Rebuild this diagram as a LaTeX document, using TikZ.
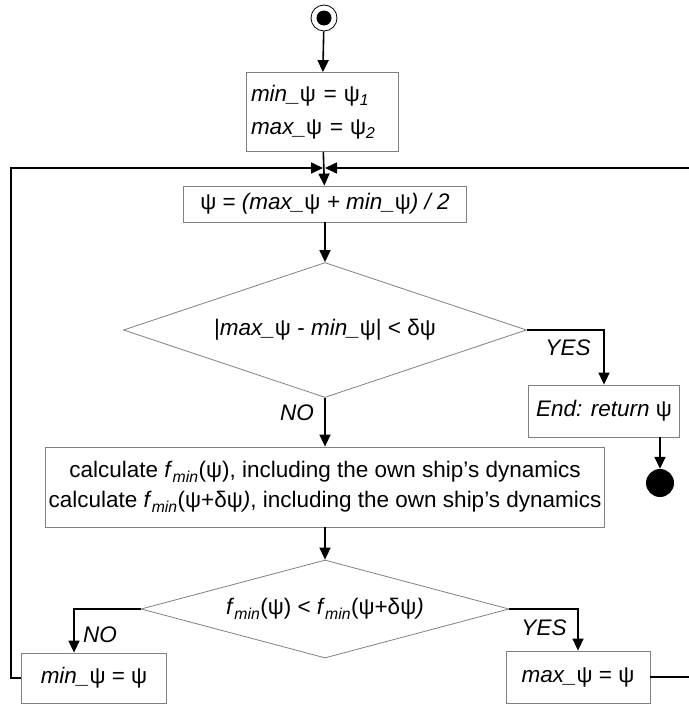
\documentclass[tikz,border=0pt]{standalone}
\usepackage{fontspec}
\setmainfont{Liberation Sans}
\usetikzlibrary{shapes.geometric,arrows.meta}
\newcommand{\ps}{\textup{ψ}}
\newcommand{\dps}{\textup{δψ}}
\newcommand{\fmin}{\textit{f}\textsubscript{\textit{min}}}

\begin{document}
\begin{tikzpicture}[x=1pt, y=-1pt,
		font=\fontsize{22.5}{30}\selectfont,
		box/.style={draw=gray, line width=0.8pt, inner sep=0pt},
		cond/.style={draw=gray, line width=0.8pt, diamond, inner sep=0pt},
		flow/.style={line width=1.6pt, -{Triangle[length=12pt,width=11pt]}},
		lbl/.style={font=\fontsize{22.5}{26}\selectfont\itshape}]
	\useasboundingbox (0,0) rectangle (688,704);

	% Start
	\node[draw=black, line width=0.8pt, circle, minimum size=26pt, inner sep=0pt] (start) at (324,18) {};
	\fill (start) circle (7.5pt);

	% Blocks
	\node[box, minimum width=152pt, minimum height=79pt, text width=142pt, align=left, font=\fontsize{22.5}{33}\selectfont\itshape] (init) at (322,112) {min\_\ps{} = \ps\textsubscript{1}\\max\_\ps{} = \ps\textsubscript{2}};
	\coordinate (merge) at (324,168);
	\node[box, minimum width=283pt, minimum height=36pt] (calc) at (325,204) {\ps{} = \textit{(max\_}\ps{} \textit{+ min\_}\ps\textit{) / 2}};
	\node[cond, aspect=3, minimum width=403pt, minimum height=135pt] (check) at (325,330) {|\textit{max\_}\ps{} - \textit{min\_}\ps| < \dps};
	\node[box, minimum width=151pt, minimum height=52pt] (done) at (604,411) {\textit{End: return} \ps};
	\node[circle, fill, minimum size=28pt, inner sep=0pt] (stop) at (660,483) {};
	\node[box, minimum width=559pt, minimum height=80pt, align=center] (eval) at (325,487) {calculate \fmin(\ps), including the own ship’s dynamics\\calculate \fmin(\ps+\dps\textit{)}, including the own ship’s dynamics};
	\node[cond, aspect=3.75, minimum width=368pt, minimum height=98pt] (cmp) at (325,609) {\fmin(\ps) < \fmin(\ps+\dps\textit{)}};
	\node[box, minimum width=145pt, minimum height=50pt] (setmin) at (94,678) {\textit{min\_}\ps{} = \ps};
	\node[box, minimum width=144pt, minimum height=52pt] (setmax) at (578,677) {\textit{max\_}\ps{} = \ps};

	% Labels
	\node[lbl] (yes1) at (568,348) {YES};
	\node[lbl] (no1) at (297,413) {NO};
	\node[lbl] (no2) at (100,635) {NO};
	\node[lbl] (yes2) at (544,628) {YES};

	% Connectors
	\draw[flow] (start) -- (init);
	\draw[flow] (init) -- (calc);
	\draw[flow] (calc) -- (check);
	\draw[flow] (check.east) -| (done.north);
	\draw[flow] (done.south -| stop) -- (stop.north);
	\draw[flow] (check) -- (eval);
	\draw[flow] (eval) -- (cmp);
	\draw[flow] (cmp.west) -| ([xshift=-20pt]setmin.north);
	\draw[flow] (cmp.east) -| (setmax.north);
	\draw[flow] (setmin.west) -- ++(-10,0) |- ([xshift=-1pt]merge);
	\draw[flow] (setmax.east) -- ++(50,0) |- ([xshift=1pt]merge);
\end{tikzpicture}
\end{document}
